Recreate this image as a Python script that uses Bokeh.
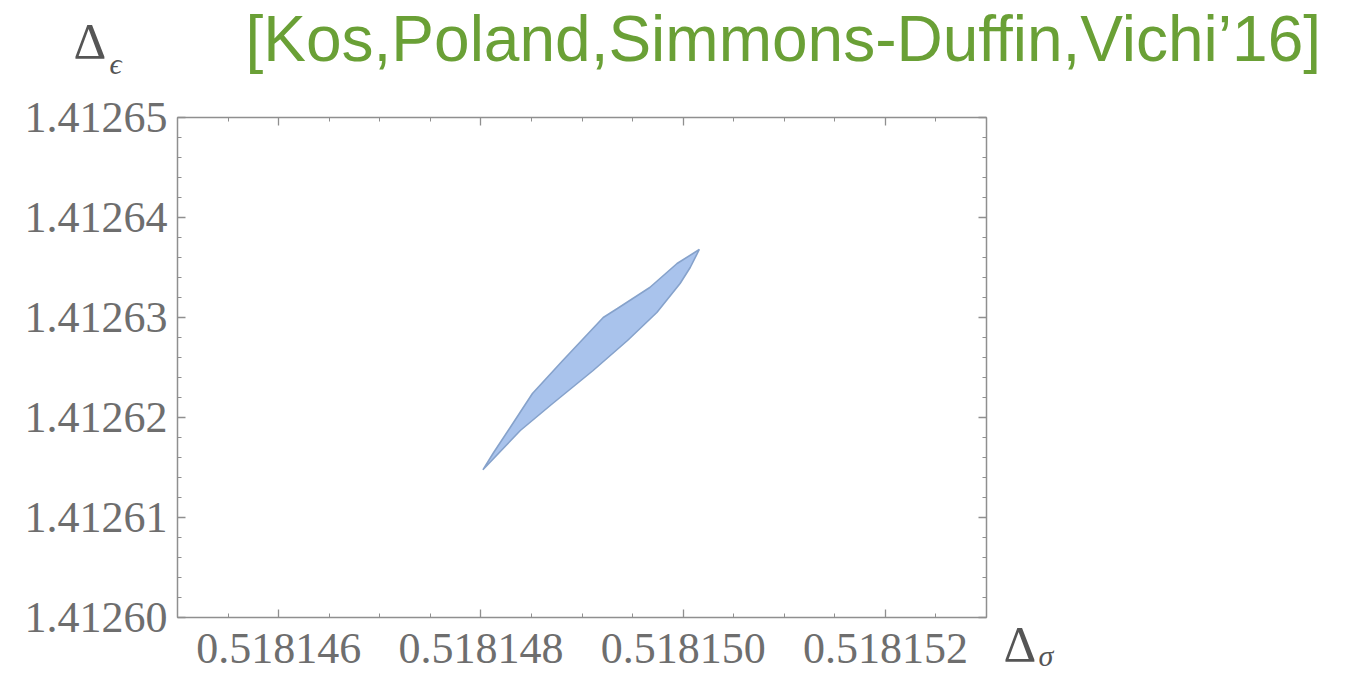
from bokeh.plotting import figure
from bokeh.models import (Range1d, FixedTicker, PrintfTickFormatter, LinearAxis, Label)
from bokeh.embed import file_html
from bokeh.resources import INLINE

# ---- data ----
upper_x = [0.51814802, 0.51814812, 0.51814829, 0.51814851, 0.51814881,
           0.51814921, 0.51814935, 0.51814967, 0.51814994, 0.51815016]
upper_y = [1.41261477, 1.41261640, 1.41261900, 1.41262240, 1.41262570,
           1.41263000, 1.41263090, 1.41263300, 1.41263540, 1.41263680]
lower_x = [0.51815007, 0.51814997, 0.51814974, 0.51814945, 0.51814911,
           0.51814871, 0.51814839]
lower_y = [1.41263500, 1.41263340, 1.41263050, 1.41262770, 1.41262470,
           1.41262140, 1.41261870]

x_major = [0.518146, 0.518148, 0.518150, 0.518152]
x_minor = [0.5181450, 0.5181455, 0.5181460, 0.5181465, 0.5181470, 0.5181475,
           0.5181480, 0.5181485, 0.5181490, 0.5181495, 0.5181500, 0.5181505,
           0.5181510, 0.5181515, 0.5181520, 0.5181525, 0.5181530]
y_major = [1.41260, 1.41261, 1.41262, 1.41263, 1.41264, 1.41265]
y_minor = [1.412600, 1.412602, 1.412604, 1.412606, 1.412608,
           1.412610, 1.412612, 1.412614, 1.412616, 1.412618,
           1.412620, 1.412622, 1.412624, 1.412626, 1.412628,
           1.412630, 1.412632, 1.412634, 1.412636, 1.412638,
           1.412640, 1.412642, 1.412644, 1.412646, 1.412648, 1.412650]

title_text = "[Kos,Poland,Simmons-Duffin,Vichi\u201916]"
x_min, x_max = 0.518145, 0.518153
y_min, y_max = 1.41260, 1.41265

# ---- layout: the plot box inside the canvas (pixels) ----
W, H = 1345, 673
box_left, box_right, box_top, box_bottom = 177, 986, 117, 617
kx = (x_max - x_min) / (box_right - box_left)
ky = (y_max - y_min) / (box_bottom - box_top)
xr = Range1d(x_min - box_left * kx, x_max + (W - box_right) * kx)
yr = Range1d(y_min - (H - box_bottom) * ky, y_max + box_top * ky)

p = figure(width=W, height=H, output_backend="svg", toolbar_location=None,
           x_range=xr, y_range=yr, min_border=0, min_border_left=0,
           min_border_right=0, min_border_top=0, min_border_bottom=0,
           x_axis_type=None, y_axis_type=None)
p.outline_line_color = None
p.xgrid.visible = False
p.ygrid.visible = False
p.background_fill_color = "white"
p.border_fill_color = "white"

frame_col = "#8f8f8f"
lab_col = "#6e6e6e"

def style(ax):
    ax.axis_line_color = frame_col
    ax.axis_line_width = 1.5
    ax.major_tick_line_color = frame_col
    ax.minor_tick_line_color = frame_col
    ax.major_tick_line_width = 1.3
    ax.minor_tick_line_width = 1.0
    ax.major_tick_in = 8
    ax.major_tick_out = 0
    ax.minor_tick_in = 4
    ax.minor_tick_out = 0
    ax.major_label_text_font = "Liberation Serif"
    ax.major_label_text_font_size = "44px"
    ax.major_label_text_color = lab_col

xt = FixedTicker(ticks=x_major, minor_ticks=x_minor)
yt = FixedTicker(ticks=y_major, minor_ticks=y_minor)

bottom = LinearAxis(ticker=xt, formatter=PrintfTickFormatter(format="%.6f"),
                    fixed_location=y_min, bounds=(x_min, x_max))
style(bottom)
bottom.major_label_standoff = 16
top = LinearAxis(ticker=xt, major_label_overrides={v: "" for v in x_major},
                 fixed_location=y_max, bounds=(x_min, x_max))
style(top)
left = LinearAxis(ticker=yt, formatter=PrintfTickFormatter(format="%.5f"),
                  fixed_location=x_min, bounds=(y_min, y_max))
style(left)
left.major_label_standoff = 10
right = LinearAxis(ticker=yt, major_label_overrides={v: "" for v in y_major},
                   fixed_location=x_max, bounds=(y_min, y_max))
style(right)

p.add_layout(bottom, "below")
p.add_layout(top, "above")
p.add_layout(left, "left")
p.add_layout(right, "right")

xs = upper_x + lower_x
ys = upper_y + lower_y
p.patch(xs, ys, fill_color="#a9c3ec", fill_alpha=1.0,
        line_color="#86a2cb", line_width=1.6)

# title and axis symbols (screen units, y measured from the bottom; anchor = text middle)
def lab(x, y, text, size, color, font, style="normal"):
    p.add_layout(Label(x=x, y=H - y, x_units="screen", y_units="screen",
                       text=text, text_font=font, text_font_style=style,
                       text_font_size=size, text_color=color,
                       text_baseline="middle"))

lab(245, 38, title_text, "64px", "#6aa036", "Liberation Sans")
lab(73, 40, "\u0394", "51px", "#555555", "Liberation Serif")
lab(109, 63, "\u03f5", "30px", "#555555", "Liberation Serif", "italic")
lab(1003, 643, "\u0394", "51px", "#555555", "Liberation Serif")
lab(1038, 655, "\u03c3", "30px", "#555555", "Liberation Serif", "italic")

open("out.html", "w").write(file_html(p, INLINE))
